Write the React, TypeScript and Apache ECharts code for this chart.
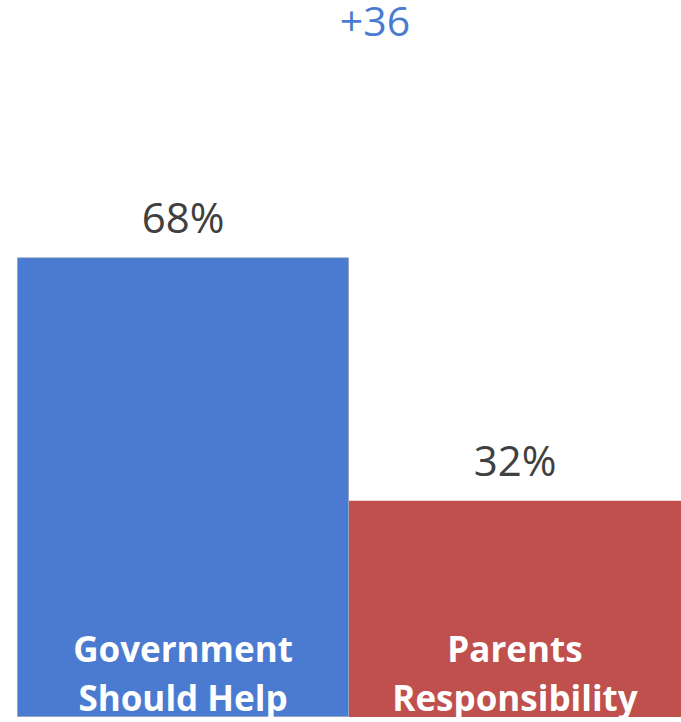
import React, { useEffect, useRef } from "react";
import * as echarts from "echarts";

const categories = ["Government\nShould Help", "Parents\nResponsibility"];
const values = [68, 32];
const barColors = ["#4a7bd1", "#c0504d"];
const diffLabel = `+${values[0] - values[1]}`;

export default function App() {
  const ref = useRef<HTMLDivElement>(null);
  useEffect(() => {
    if (!ref.current) return;
    const chart = echarts.init(ref.current, null, { renderer: "svg" });
    chart.setOption({
      animation: false,
      grid: { left: 17, right: 0, top: 41, bottom: 0, containLabel: false },
      xAxis: {
        type: "category",
        data: categories,
        axisLine: { show: false },
        axisTick: { show: false },
        axisLabel: {
          inside: true,
          color: "#ffffff",
          fontFamily: "Open Sans",
          fontWeight: "bold",
          fontSize: 35,
          lineHeight: 49,
          margin: -5,
          verticalAlign: "bottom",
        },
        z: 10,
      },
      yAxis: {
        type: "value",
        min: 0,
        max: 100,
        show: false,
        splitLine: { show: false },
      },
      graphic: [
        {
          type: "text",
          x: 375,
          y: 1,
          style: {
            text: diffLabel,
            fill: "#4a7bd1",
            font: "41px 'Open Sans'",
            lineHeight: 37,
            textAlign: "center",
            textVerticalAlign: "top",
          },
        },
      ],
      series: [
        {
          type: "bar",
          barWidth: "100%",
          data: values.map((v, i) => ({
            value: v,
            itemStyle: {
              color: barColors[i],
              borderColor: i === 0 ? "rgba(140,150,170,0.6)" : barColors[i],
              borderWidth: i === 0 ? 1 : 0,
            },
          })),
          label: {
            show: true,
            position: "top",
            distance: 20,
            formatter: "{c}%",
            color: "#404040",
            fontFamily: "Open Sans",
            fontSize: 42,
          },
        },
      ],
    });
    return () => chart.dispose();
  }, []);
  return (
    <div
      ref={ref}
      style={{ position: "absolute", left: 0, top: 0, width: 681, height: 722 }}
    />
  );
}
